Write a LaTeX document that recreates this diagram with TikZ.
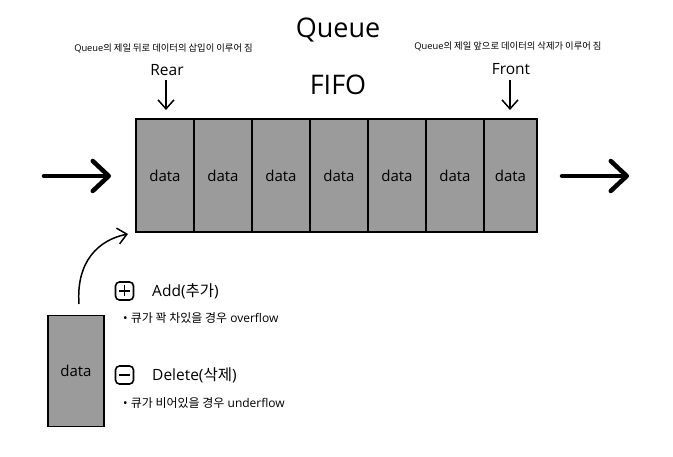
\documentclass[tikz,border=0pt]{standalone}
\usepackage{fontspec}
\setmainfont{Open Sans}
\newfontfamily\kr{Noto Sans CJK KR}
\usetikzlibrary{arrows.meta}
\definecolor{cellgray}{HTML}{9B9B9B}
\tikzset{
  cell/.style={draw=black, line width=1.8pt, fill=cellgray, minimum height=113pt, inner sep=0pt, font=\fontsize{15}{18}\selectfont},
  bigarrow/.style={line width=4.5pt, line cap=round, -{Straight Barb[length=16pt,width=30pt,round]}},
  smallarrow/.style={line width=1.5pt, -{Straight Barb[length=9pt,width=16pt]}},
  note/.style={font=\fontsize{9.3}{11}\selectfont, inner sep=0pt},
  lbl/.style={font=\fontsize{15.5}{18}\selectfont, inner sep=0pt},
  titlestyle/.style={font=\fontsize{27}{32}\selectfont, inner sep=0pt},
  bullet/.style={font=\fontsize{12}{14}\selectfont, inner sep=0pt, anchor=west},
  icon/.style={draw=black, line width=1.6pt, rounded corners=4pt, minimum size=18pt, inner sep=0pt},
}
\begin{document}
\begin{tikzpicture}[x=1pt,y=-1pt]
\useasboundingbox (0,0) rectangle (673,457);
% titles
\node[titlestyle] (queue) at (338,30) {Queue};
\node[titlestyle] (fifo) at (338,85) {FIFO};
\node[note] (rearnote) at (163.5,48) {Queue{\kr 의 제일 뒤로 데이터의 삽입이 이루어 짐}};
\node[note] (frontnote) at (508,46) {Queue{\kr 의 제일 앞으로 데이터의 삭제가 이루어 짐}};
\node[lbl] (rear) at (167,70) {Rear};
\node[lbl] (front) at (511,69) {Front};
% cells
\node[cell, minimum width=58pt] (c1) at (165,175.5) {data};
\node[cell, minimum width=58pt] (c2) at (223,175.5) {data};
\node[cell, minimum width=58pt] (c3) at (281,175.5) {data};
\node[cell, minimum width=58pt] (c4) at (339,175.5) {data};
\node[cell, minimum width=58pt] (c5) at (397,175.5) {data};
\node[cell, minimum width=58pt] (c6) at (455,175.5) {data};
\node[cell, minimum width=53pt] (c7) at (510.5,175.5) {data};
% pointer arrows
\coordinate (rearS) at (166,80);
\coordinate (reartip) at (166,110);
\coordinate (frontS) at (510,80);
\coordinate (fronttip) at (510,110);
\draw[smallarrow] (rearS) -- (reartip);
\draw[smallarrow] (frontS) -- (fronttip);
% big arrows
\coordinate (inS) at (44,176);
\coordinate (inE) at (111,176);
\coordinate (outS) at (562,176);
\coordinate (outE) at (629,176);
\draw[bigarrow] (inS) -- (inE);
\draw[bigarrow] (outS) -- (outE);
% new data box
\node[cell, minimum width=56pt, minimum height=111pt] (nd) at (76,371) {data};
\coordinate (ndS) at (79,304);
\coordinate (ndend) at (128,234);
\draw[smallarrow] (ndS) .. controls (76,262) and (98,240) .. (ndend);
% legend
\node[icon] (plus) at (124.5,291) {};
\draw[line width=1.6pt] (plus.center) ++(-5.5,0) -- ++(11,0);
\draw[line width=1.6pt] (plus.center) ++(0,-5.5) -- ++(0,11);
\node[lbl, anchor=west] (add) at (152,291) {Add({\kr 추가})};
\node[bullet] (b1) at (123,318) {• {\kr 큐가 꽉 차있을 경우} overflow};
\node[icon] (minus) at (124.5,375) {};
\draw[line width=1.6pt] (minus.center) ++(-5.5,0) -- ++(11,0);
\node[lbl, anchor=west] (del) at (152,375) {Delete({\kr 삭제})};
\node[bullet] (b2) at (123,403) {• {\kr 큐가 비어있을 경우} underflow};
\end{tikzpicture}
\end{document}
